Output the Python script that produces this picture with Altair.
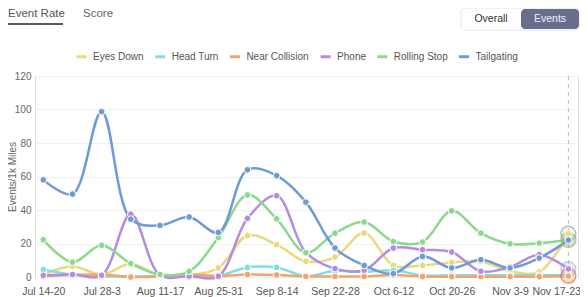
import altair as alt
import pandas as pd

weeks = ["Jul 14-20", "Jul 21-27", "Jul 28-3", "Aug 4-10", "Aug 11-17", "Aug 18-24",
         "Aug 25-31", "Sep 1-7", "Sep 8-14", "Sep 15-21", "Sep 22-28", "Sep 29-5",
         "Oct 6-12", "Oct 13-19", "Oct 20-26", "Oct 27-2", "Nov 3-9", "Nov 10-16", "Nov 17-23"]
tick_idx = list(range(0, len(weeks), 2))

series_names = ["Eyes Down", "Head Turn", "Near Collision", "Phone", "Rolling Stop", "Tailgating"]
series_colors = ["#ead97c", "#7fdfe0", "#f5a36c", "#b58de0", "#8ad98c", "#6e9bd8"]

eyes_down = [1.5, 6.3, 1.5, 7.7, 1, 1, 5.4, 24.8, 19.3, 9.3, 11.9, 26.2, 6.9, 6.9, 8.7, 9.3, 3.5, 3, 25.8]
head_turn = [4.4, 1.5, 0.5, 0.3, 0.5, 0.5, 0.8, 5.7, 5.7, 0.5, 3.7, 3, 4, 1, 1, 1, 1, 1, 1.2]
near_collision = [0.5, 1.2, 1.5, 0, 0.3, 1.5, 0.5, 1.5, 1.2, 0.3, 0.3, 0.3, 1.2, 0.2, 0.2, 0.2, 0.2, 0.2, 0.5]
phone = [1, 1.5, 1, 37.5, 1, 0.5, 0.5, 35, 48.5, 14.7, 5, 4, 17.3, 16.3, 14.9, 3.4, 6, 13.3, 4.8]
rolling_stop = [22.2, 8.9, 18.9, 8, 1.5, 3.4, 23.6, 49, 34.7, 14.5, 26.2, 32.8, 21.2, 20.9, 39.5, 26.2, 19.8, 20.2, 22.2]
tailgating = [58, 49.5, 98.7, 34.5, 30.8, 35.8, 26.6, 64, 60.5, 44.7, 17.3, 6.9, 2, 12.3, 5.4, 10.3, 5.4, 11.3, 22]

all_series = [eyes_down, head_turn, near_collision, phone, rolling_stop, tailgating]

rows = []
for name, vals in zip(series_names, all_series):
    for i, (w, v) in enumerate(zip(weeks, vals)):
        rows.append({"idx": i, "week": w, "series": name, "value": v})
df = pd.DataFrame(rows)
last = len(weeks) - 1
last_df = df[df["idx"] == last]

FONT = "Liberation Sans"
W, H = 543, 201
TOP, LEFT = 68, 27
TOTAL_H = 289

label_js = "[" + ",".join("'" + w + "'" for w in weeks) + "][datum.value]"

x_enc = alt.X("idx:Q", scale=alt.Scale(domain=[-0.2845, 18.33], nice=False, zero=False),
              axis=alt.Axis(values=tick_idx, labelExpr=label_js, labelAngle=0,
                            labelAlign={"expr": f"datum.value == {last} ? 'right' : 'center'"},
                            labelOffset={"expr": f"datum.value == {last} ? 12 : 0"},
                            ticks=False, domain=False, grid=False,
                            labelPadding=9, labelFontSize=10.5, labelColor="#555",
                            labelFont=FONT, title=None, labelOverlap=False, labelFlush=False))
y_enc = alt.Y("value:Q", scale=alt.Scale(domain=[0, 120], nice=False),
              axis=alt.Axis(values=[0, 20, 40, 60, 80, 100, 120], ticks=False, domain=False,
                            gridColor="#f0f0f0", labelPadding=4, labelFontSize=10,
                            labelColor="#666", labelFont=FONT, title="Events/1k Miles",
                            labelOverlap=False,
                            titleFontSize=10, titleColor="#666", titleFont=FONT,
                            titleFontWeight="normal", titleX=-23, titleY=H / 2,
                            titleAngle=270, titleAlign="center", titleBaseline="middle"))

color = alt.Color("series:N", scale=alt.Scale(domain=series_names, range=series_colors),
                  legend=alt.Legend(orient="none", legendX=40, legendY=-26, direction="horizontal",
                                    title=None, symbolType="stroke", symbolSize=100,
                                    symbolStrokeWidth=3, labelFontSize=10, labelColor="#555",
                                    labelFont=FONT, columnPadding=4.7, labelOffset=5))

rule = alt.Chart(pd.DataFrame({"idx": [last]})).mark_rule(
    color="#bbbbbb", strokeDash=[4, 4], strokeWidth=1).encode(
    x=x_enc, y=alt.value(0), y2=alt.value(H))

lines = alt.Chart(df).mark_line(interpolate="catmull-rom", strokeWidth=2.5).encode(
    x=x_enc, y=y_enc, color=color)

halos = alt.Chart(last_df).mark_circle(size=220, opacity=1, fillOpacity=0.2,
                                       strokeWidth=1.5, strokeOpacity=0.45).encode(
    x=x_enc, y=y_enc, color=color, stroke=alt.Stroke("series:N", legend=None))

points = alt.Chart(df).mark_point(filled=True, size=45, stroke="white", strokeWidth=1,
                                  opacity=1).encode(
    x=x_enc, y=y_enc,
    fill=alt.Fill("series:N", legend=None,
                  scale=alt.Scale(domain=series_names, range=series_colors)))

one = pd.DataFrame({"k": [0]})
tab1 = alt.Chart(one).mark_text(text="Event Rate", align="left", baseline="middle",
                                fontSize=11.5, color="#555", font=FONT).encode(
    x=alt.value(-27), y=alt.value(-62))
tab2 = alt.Chart(one).mark_text(text="Score", align="left", baseline="middle",
                                fontSize=11.5, color="#666", font=FONT).encode(
    x=alt.value(48), y=alt.value(-62))
underline = alt.Chart(one).mark_rule(color="#555a6a", strokeWidth=2).encode(
    x=alt.value(-27), x2=alt.value(28), y=alt.value(-52))
box = alt.Chart(one).mark_rect(fill="white", stroke="#e6e6e6", strokeWidth=1,
                               cornerRadius=4).encode(
    x=alt.value(426), x2=alt.value(544), y=alt.value(-68), y2=alt.value(-46))
active = alt.Chart(one).mark_rect(fill="#6a6e8e", cornerRadius=4).encode(
    x=alt.value(486), x2=alt.value(544), y=alt.value(-67), y2=alt.value(-47))
overall_t = alt.Chart(one).mark_text(text="Overall", align="center", baseline="middle",
                                     fontSize=10.5, color="#333", font=FONT).encode(
    x=alt.value(456), y=alt.value(-57))
events_t = alt.Chart(one).mark_text(text="Events", align="center", baseline="middle",
                                    fontSize=10.5, color="#f0f0f5", font=FONT).encode(
    x=alt.value(515), y=alt.value(-57))

chart = alt.layer(rule, lines, halos, points, tab1, tab2, underline, box, active,
                  overall_t, events_t).properties(
    width=W, height=H,
    autosize=alt.AutoSizeParams(type="none"),
    padding={"left": LEFT, "top": TOP, "right": 572 - LEFT - W, "bottom": TOTAL_H - TOP - H},
).configure_view(stroke=None).configure(font=FONT)

chart.save("out.html", embed_options={"renderer": "svg", "actions": False})
